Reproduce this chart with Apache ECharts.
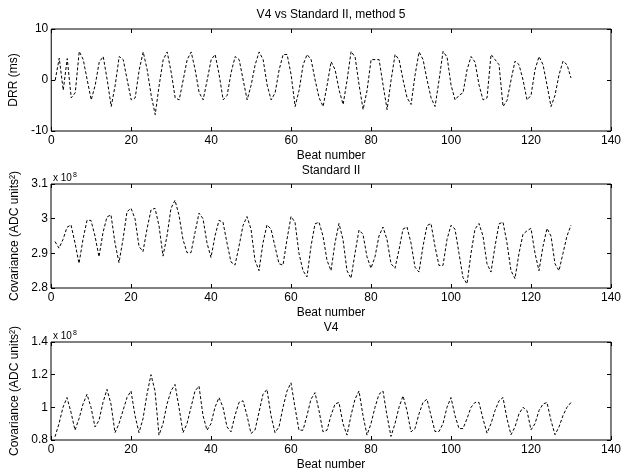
<!DOCTYPE html>
<html>
<head>
<meta charset="utf-8">
<script src="https://cdn.jsdelivr.net/npm/echarts@6/dist/echarts.min.js"></script>
<style>
  html, body { margin: 0; padding: 0; background: #fff; }
  #chart { width: 624px; height: 472px; }
</style>
</head>
<body>
<div id="chart"></div>
<script>
// Beat-to-beat series, beats 1..130
const beats = Array.from({ length: 130 }, (_, i) => i + 1);

// DRR in ms (V4 vs Standard II, method 5)
const drr = [
  0, 4.3, -2, 4.2, -3.5, -2.5, 5.6, 4, 0, -3.9,
  -1, 3.5, 4.6, 0, -5.2, -1, 4.6, 4, 0, -3.9,
  -3.5, 2, 5.5, 2, -3, -6.8, -1, 4, 5.5, 1.5,
  -3.5, -3.9, 0, 4, 5.5, 2, -2.5, -3.9, 0, 4,
  5, 1, -3.9, -3, 1.5, 4.6, 4, 0, -3.9, -1,
  3, 5.5, 4, -1, -3.9, -2.5, 2, 5, 5, 1,
  -5.2, -2, 3, 5, 4, 0, -3.5, -5.2, -1, 3.6,
  2, -2, -4.8, 0, 5.6, 4.5, -1, -5.8, -2, 4,
  4, 4, -1, -5.8, 0, 5, 4, 0, -3.5, -4.8,
  1, 5.5, 4, 0, -3.5, -5.2, 0, 5.6, 4.5, -1,
  -3.9, -3, -2.5, 2, 4.6, 3.5, -1, -3.9, -3.5, 5,
  4, 3, -5.2, -4, 0, 3.7, 3, 0, -3.9, -3,
  2, 4.6, 3, -1, -5.2, -3, 1, 3.7, 3, 0.4
];

// Covariance, Standard II lead (x 10^8 ADC units^2)
const covStdII = [
  2.934, 2.915, 2.94, 2.975, 2.982, 2.93, 2.871, 2.94, 2.995, 2.995,
  2.95, 2.89, 2.96, 3.005, 3.011, 2.93, 2.873, 2.94, 3.02, 3.03,
  3.0, 2.92, 2.905, 2.97, 3.025, 3.03, 2.98, 2.892, 2.95, 3.03,
  3.053, 3.01, 2.94, 2.902, 2.902, 2.96, 3.016, 3.0, 2.93, 2.888,
  2.95, 2.995, 2.99, 2.93, 2.875, 2.866, 2.92, 2.98, 3.006, 2.97,
  2.88, 2.85, 2.93, 2.982, 2.97, 2.92, 2.87, 2.866, 2.94, 3.006,
  2.99, 2.9, 2.85, 2.832, 2.92, 2.985, 2.99, 2.95, 2.88, 2.85,
  2.93, 2.986, 2.94, 2.85, 2.828, 2.9, 2.967, 2.955, 2.89, 2.857,
  2.89, 2.95, 2.976, 2.94, 2.87, 2.857, 2.91, 2.97, 2.976, 2.93,
  2.86, 2.846, 2.92, 2.98, 2.986, 2.92, 2.865, 2.865, 2.94, 2.981,
  2.97, 2.9, 2.83, 2.812, 2.9, 2.97, 2.986, 2.95, 2.87, 2.846,
  2.92, 2.985, 2.99, 2.93, 2.85, 2.827, 2.9, 2.955, 2.965, 2.972,
  2.9, 2.85, 2.92, 2.972, 2.95, 2.87, 2.85, 2.9, 2.95, 2.981
];

// Covariance, V4 lead (x 10^8 ADC units^2)
const covV4 = [
  0.82, 0.9, 1.0, 1.06, 0.97, 0.86, 0.93, 1.02, 1.08, 1.0,
  0.88, 0.92, 1.03, 1.11, 1.02, 0.845, 0.9, 0.98, 1.06, 1.1,
  0.95, 0.845, 0.93, 1.08, 1.2, 1.1, 0.83, 0.9, 1.02, 1.1,
  1.14, 1.0, 0.845, 0.9, 1.0, 1.1, 1.13, 0.95, 0.86, 0.9,
  1.0, 1.06, 1.0, 0.88, 0.85, 0.95, 1.03, 1.04, 0.95, 0.84,
  0.86, 0.97, 1.08, 1.11, 0.95, 0.845, 0.88, 1.0, 1.1, 1.15,
  1.0, 0.86, 0.86, 0.95, 1.05, 1.09, 0.98, 0.85, 0.86, 0.95,
  1.02, 1.03, 0.9, 0.83, 0.95, 1.05, 1.1, 0.95, 0.83, 0.9,
  1.0, 1.08, 1.1, 0.95, 0.822, 0.9, 1.0, 1.07, 0.98, 0.85,
  0.87, 0.96, 1.03, 1.05, 0.95, 0.852, 0.852, 0.9, 1.0, 1.06,
  0.95, 0.87, 0.87, 0.93, 1.0, 1.03, 1.03, 0.93, 0.842, 0.9,
  0.98, 1.04, 1.06, 0.93, 0.832, 0.88, 0.96, 1.0, 0.98, 0.862,
  0.9, 0.98, 1.02, 1.03, 0.92, 0.832, 0.88, 0.95, 1.0, 1.03
];

const panelTitles = ['V4 vs Standard II, method 5', 'Standard II', 'V4'];
const yNames = ['DRR (ms)', 'Covariance (ADC units\u00B2)', 'Covariance (ADC units\u00B2)'];
const xName = 'Beat number';
const xTicks = { min: 0, max: 140, interval: 20 };
const yRanges = [
  { min: -10, max: 10, interval: 10 },
  { min: 2.8, max: 3.1, interval: 0.1 },
  { min: 0.8, max: 1.4, interval: 0.2 }
];
const seriesList = [drr, covStdII, covV4];

const FONT = 'Liberation Sans, Arial, sans-serif';
const grids = [
  { left: 51, right: 12, top: 29, height: 102 },
  { left: 51, right: 12, top: 184, height: 104 },
  { left: 51, right: 12, top: 342, height: 101 }
];

const tickStyle = { show: true, inside: true, length: 4, lineStyle: { color: '#000' } };
const xAxes = [], yAxes = [], series = [];
grids.forEach((g, i) => {
  g.show = true;
  g.borderColor = '#000';
  g.borderWidth = 1;
  g.backgroundColor = '#fff';
  // bottom axis with labels
  xAxes.push({
    type: 'value', gridIndex: i, position: 'bottom',
    min: xTicks.min, max: xTicks.max, interval: xTicks.interval,
    name: xName, nameLocation: 'middle', nameGap: 19,
    nameTextStyle: { color: '#000', fontSize: 12, fontFamily: FONT },
    axisLine: { show: false, onZero: false },
    axisTick: tickStyle,
    axisLabel: { color: '#000', fontSize: 12, fontFamily: FONT, margin: 4 },
    splitLine: { show: false }
  });
  // top axis: ticks only
  xAxes.push({
    type: 'value', gridIndex: i, position: 'top',
    min: xTicks.min, max: xTicks.max, interval: xTicks.interval,
    axisLine: { show: false, onZero: false },
    axisTick: tickStyle,
    axisLabel: { show: false },
    splitLine: { show: false }
  });
  const r = yRanges[i];
  yAxes.push({
    type: 'value', gridIndex: i, position: 'left',
    min: r.min, max: r.max, interval: r.interval,
    name: yNames[i], nameLocation: 'middle', nameRotate: 90, nameGap: 20,
    nameTextStyle: { color: '#000', fontSize: 12, fontFamily: FONT },
    axisLine: { show: false, onZero: false },
    axisTick: tickStyle,
    axisLabel: { color: '#000', fontSize: 12, fontFamily: FONT, margin: 3 },
    splitLine: { show: false }
  });
  yAxes.push({
    type: 'value', gridIndex: i, position: 'right',
    min: r.min, max: r.max, interval: r.interval,
    axisLine: { show: false, onZero: false },
    axisTick: tickStyle,
    axisLabel: { show: false },
    splitLine: { show: false }
  });
  series.push({
    type: 'line',
    xAxisIndex: i * 2, yAxisIndex: i * 2,
    data: beats.map((b, k) => [b, seriesList[i][k]]),
    showSymbol: false, symbol: 'none', smooth: false,
    lineStyle: { color: '#000', width: 1, type: [3, 2] },
    animation: false
  });
});

const titleY = [15, 171, 328];
const graphics = panelTitles.map((t, i) => ({
  type: 'text', x: 331, y: titleY[i],
  style: { text: t, fill: '#000', font: '12px ' + FONT, textAlign: 'center', textVerticalAlign: 'middle' }
}));
// exponent markers above the covariance axes
[{ y: 178 }, { y: 336 }].forEach(p => {
  graphics.push({
    type: 'text', x: 53, y: p.y,
    style: {
      text: '{b|x 10}{s|8}',
      rich: {
        b: { fontSize: 10, fontFamily: FONT, fill: '#000', color: '#000' },
        s: { fontSize: 7, fontFamily: FONT, fill: '#000', color: '#000', padding: [0, 0, 6, 1] }
      },
      textVerticalAlign: 'middle'
    }
  });
});

const chart = echarts.init(document.getElementById('chart'), null, { renderer: 'canvas' });
chart.setOption({
  backgroundColor: '#fff',
  animation: false,
  grid: grids,
  xAxis: xAxes,
  yAxis: yAxes,
  series: series,
  graphic: graphics
});
</script>
</body>
</html>
